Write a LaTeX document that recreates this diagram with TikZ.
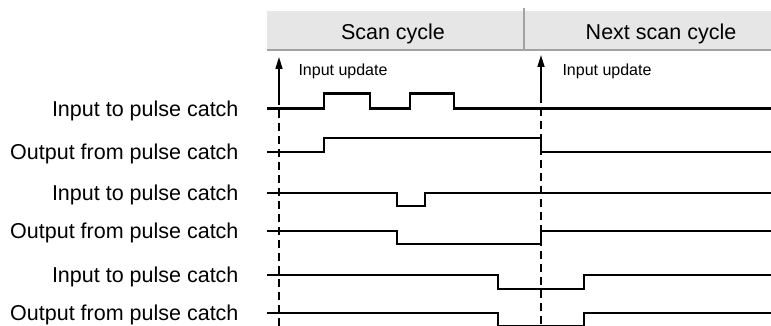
\documentclass[tikz,border=0pt]{standalone}
\usepackage{fontspec}
\setmainfont{Liberation Sans}
\usepackage{tikz}
\usetikzlibrary{arrows.meta, positioning}
\definecolor{hdrfill}{HTML}{E6E6E6}
\definecolor{hdrline}{HTML}{A3A3A3}

\begin{document}
\begin{tikzpicture}[
    x=1pt, y=-1pt,
    header/.style={rectangle, fill=hdrfill, minimum height=39pt, inner sep=0pt,
                   anchor=north west},
    title/.style={anchor=base, font=\fontsize{21.5}{26}\selectfont},
    siglabel/.style={anchor=base east, font=\fontsize{21.5}{26}\selectfont},
    note/.style={anchor=base west, font=\fontsize{16}{19}\selectfont},
    signal/.style={line width=2.9pt, line join=miter, black},
    upd/.style={-{Triangle[length=12pt, width=7pt]}, line width=1.6pt},
    scanmark/.style={line width=1.6pt, dash pattern=on 8pt off 5pt}
]
\useasboundingbox (0,0) rectangle (771,326);

% Header
\node[header, minimum width=257pt] (scan) at (267,11) {};
\node[header, minimum width=274pt] (next) at (524,11) {};
\draw[hdrline, line width=2pt] (scan.south west) -- (next.south east);
\draw[hdrline, line width=1.5pt] (524,8) -- (524,51);
\node[title] (scant) at (393,40) {Scan cycle};
\node[title] (nextt) at (661,40) {Next scan cycle};

% Input updates
\coordinate (u1) at (279,97);
\coordinate (u1tip) at (279,57);
\coordinate (u1end) at (279,330);
\coordinate (u2) at (541,95);
\coordinate (u2tip) at (541,55);
\coordinate (u2end) at (541,330);
\draw[scanmark] (u1) -- (u1end);
\draw[scanmark] (u2) -- (u2end);
\draw[upd] (u1) -- (u1tip);
\draw[upd] (u2) -- (u2tip);
\node[note] (u1lbl) at (295,76) {Input update};
\node[note] (u2lbl) at (559,76) {Input update};

% Labels
\node[siglabel] (in1)  at (242,116.2) {Input to pulse catch};
\node[siglabel] (out1) at (242,159.7) {Output from pulse catch};
\node[siglabel] (in2)  at (242,200.7) {Input to pulse catch};
\node[siglabel] (out2) at (242,238.7) {Output from pulse catch};
\node[siglabel] (in3)  at (242,282.7) {Input to pulse catch};
\node[siglabel] (out3) at (242,320.7) {Output from pulse catch};

% Signals
\draw[signal] (267,108.5) -- (324,108.5) -- (324,93.5) -- (370,93.5) -- (370,108.5)
  -- (410,108.5) -- (410,93.5) -- (454,93.5) -- (454,108.5) -- (775,108.5);
\draw[signal] (267,152) -- (324,152) -- (324,138) -- (541,138) -- (541,152) -- (775,152);
\draw[signal] (267,193) -- (397,193) -- (397,206) -- (425,206) -- (425,193) -- (775,193);
\draw[signal] (267,231) -- (397,231) -- (397,244) -- (541,244) -- (541,231) -- (775,231);
\draw[signal] (267,275) -- (498,275) -- (498,289) -- (584,289) -- (584,275) -- (775,275);
\draw[signal] (267,313) -- (498,313) -- (498,326) -- (584,326) -- (584,313) -- (775,313);
\end{tikzpicture}
\end{document}
